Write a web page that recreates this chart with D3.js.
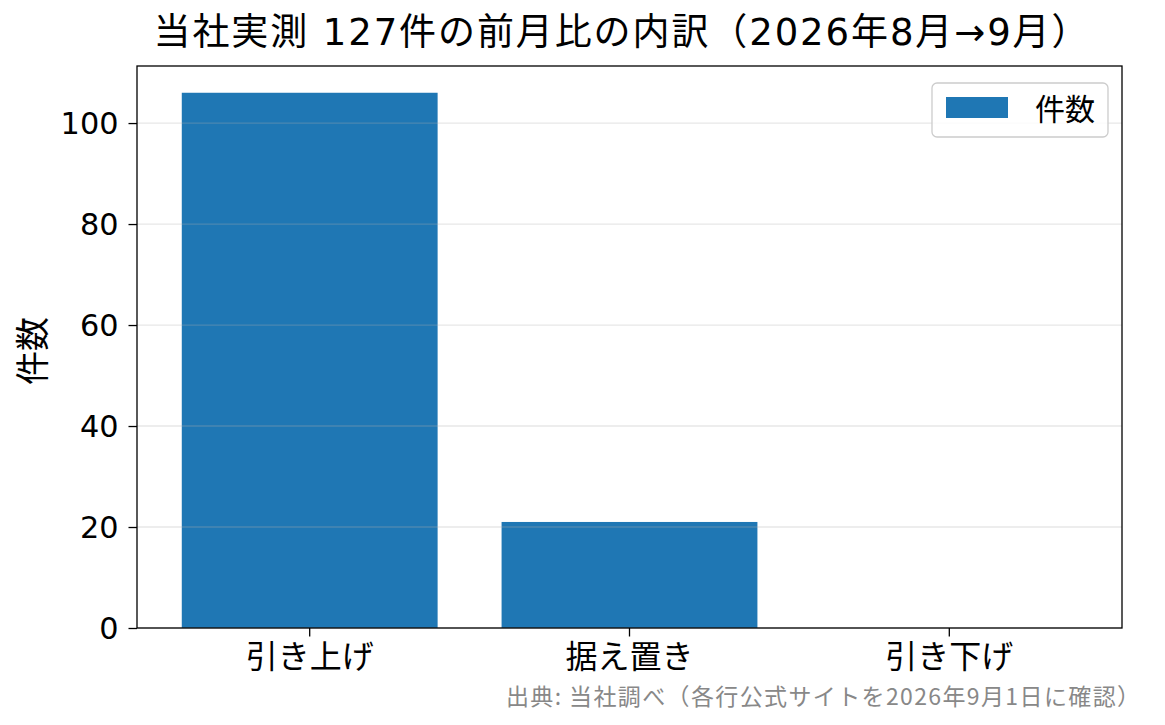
<!DOCTYPE html>
<html>
<head>
<meta charset="utf-8">
<script src="https://cdn.jsdelivr.net/npm/d3@7"></script>
<style>
  body { margin: 0; background: #fff; }
  text { font-family: "DejaVu Sans", "Noto Sans CJK JP", sans-serif; }
</style>
</head>
<body>
<div id="chart"></div>
<script>
const categories = ["引き上げ", "据え置き", "引き下げ"]
const counts = [106, 21, 0]
const yTicks = [0, 20, 40, 60, 80, 100]

const width = 1165
const height = 725
const margin = { top: 66, bottom: 97, left: 137, right: 43 }
const innerW = width - margin.left - margin.right
const innerH = height - margin.top - margin.bottom
const cjk = '"Noto Sans CJK JP", sans-serif'

const svg = d3.select("#chart").append("svg").attr("width", width).attr("height", height)

svg.append("text")
    .attr("x", 621).attr("y", 45)
    .attr("text-anchor", "middle").attr("font-size", 37).attr("fill", "#000")
    .attr("textLength", 935).attr("lengthAdjust", "spacing")
    .text("当社実測 127件の前月比の内訳（2026年8月→9月）")

const g = svg.append("g").attr("transform", `translate(${margin.left}, ${margin.top})`)

const x = d3.scaleBand().domain(categories).range([0, innerW]).paddingInner(0.2).paddingOuter(0.14)
const y = d3.scaleLinear().domain([0, d3.max(counts) * 1.05]).range([innerH, 0])

// bars
g.selectAll("rect.bar").data(counts).enter()
    .append("rect")
    .attr("class", "bar")
    .attr("x", (d, i) => x(categories[i]))
    .attr("y", d => y(d))
    .attr("width", x.bandwidth())
    .attr("height", d => innerH - y(d))
    .attr("fill", "#1f77b4")

// grid drawn over the bars, faint
g.selectAll("line.grid").data(yTicks).enter()
    .append("line")
    .attr("x1", 0).attr("x2", innerW)
    .attr("y1", d => y(d)).attr("y2", d => y(d))
    .attr("stroke", "#b0b0b0").attr("stroke-opacity", 0.3).attr("stroke-width", 1.3)

// frame
g.append("rect").attr("width", innerW).attr("height", innerH)
    .attr("fill", "none").attr("stroke", "#000").attr("stroke-width", 1.3)

const xAxis = d3.axisBottom(x).tickSize(8.5).tickPadding(6)
const yAxis = d3.axisLeft(y).tickValues(yTicks).tickSize(8.5).tickPadding(10)

const xg = g.append("g").attr("transform", `translate(0, ${innerH})`).call(xAxis)
const yg = g.append("g").call(yAxis)
;[xg, yg].forEach(a => {
    a.select(".domain").remove()
    a.selectAll(".tick line").attr("stroke", "#000").attr("stroke-width", 1.3)
    a.selectAll(".tick text").attr("fill", "#000")
})
xg.selectAll(".tick text")
    .attr("font-size", 32).style("font-family", cjk)
    .attr("y", 40).attr("dy", null)
yg.selectAll(".tick text")
    .attr("font-size", 30).style("font-family", '"DejaVu Sans", sans-serif')
    .attr("dy", "0.36em")
    .attr("textLength", d => String(d).length * 19.3).attr("lengthAdjust", "spacingAndGlyphs")

// y label
svg.append("text")
    .attr("transform", `translate(45, 351) rotate(-90)`)
    .attr("text-anchor", "middle").attr("font-size", 34).attr("fill", "#000")
    .style("font-family", cjk)
    .text("件数")

// legend
const lg = g.append("g").attr("transform", `translate(${innerW - 190}, 17)`)
lg.append("rect").attr("width", 176).attr("height", 54).attr("rx", 5)
    .attr("fill", "#fff").attr("fill-opacity", 0.8).attr("stroke", "#cccccc").attr("stroke-width", 1.3)
lg.append("rect").attr("x", 14).attr("y", 14).attr("width", 62).attr("height", 21).attr("fill", "#1f77b4")
lg.append("text").attr("x", 103).attr("y", 37).attr("font-size", 30).attr("fill", "#000")
    .style("font-family", cjk)
    .text("件数")

// source note
svg.append("text")
    .attr("x", 1140).attr("y", 705)
    .attr("text-anchor", "end").attr("font-size", 23).attr("fill", "#888")
    .style("font-family", cjk)
    .attr("textLength", 634).attr("lengthAdjust", "spacing")
    .text("出典: 当社調べ（各行公式サイトを2026年9月1日に確認）")
</script>
</body>
</html>
